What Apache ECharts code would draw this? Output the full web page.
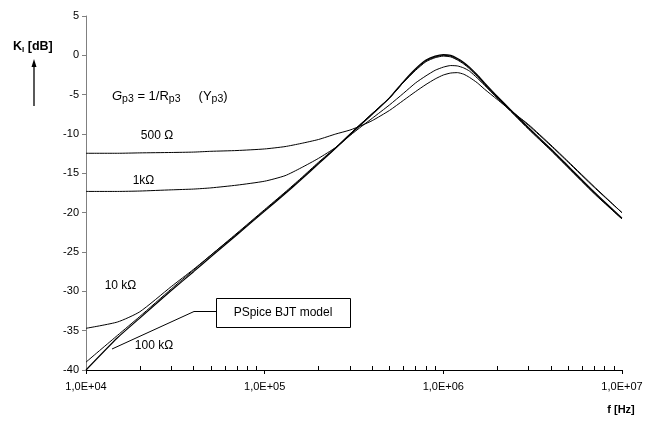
<!DOCTYPE html>
<html><head><meta charset="utf-8">
<script src="https://cdn.jsdelivr.net/npm/echarts@6/dist/echarts.min.js"></script>
<style>html,body{margin:0;padding:0;background:#fff}#c{width:659px;height:424px}</style>
</head><body><div id="c"></div>
<script>
const freq   = [1e4, 1.5e4, 2e4, 3e4, 4e4, 5e4, 7e4, 1e5, 1.3e5, 1.6e5, 2e5, 2.5e5, 3e5, 3.5e5, 4e5, 5e5, 6e5, 7e5, 8e5, 9e5, 1e6, 1.1e6, 1.2e6, 1.3e6, 1.4e6, 1.55e6, 1.7e6, 2e6, 2.5e6, 3e6, 4e6, 5e6, 7e6, 1e7];
const r500   = [-12.45, -12.45, -12.4, -12.35, -12.3, -12.2, -12.1, -11.9, -11.6, -11.2, -10.7, -10.0, -9.5, -8.9, -8.3, -7.0, -5.7, -4.6, -3.7, -3.0, -2.5, -2.25, -2.2, -2.4, -2.8, -3.5, -4.3, -5.6, -7.4, -8.8, -11.4, -13.5, -16.7, -20.0];
const r1k    = [-17.3, -17.3, -17.25, -17.1, -17.0, -16.85, -16.5, -16.0, -15.3, -14.3, -13.1, -11.7, -10.2, -9.0, -8.0, -6.3, -4.8, -3.5, -2.6, -1.9, -1.5, -1.3, -1.35, -1.6, -2.0, -2.9, -3.8, -5.4, -7.4, -8.9, -11.5, -13.6, -16.8, -20.0];
const r10k   = [-34.7, -33.9, -32.6, -29.4, -27.2, -25.4, -22.7, -19.7, -17.5, -15.7, -13.7, -11.8, -10.0, -8.6, -7.4, -5.4, -3.4, -1.9, -0.8, -0.3, -0.1, -0.2, -0.6, -1.1, -1.7, -2.7, -3.7, -5.4, -7.6, -9.4, -12.1, -14.3, -17.6, -20.8];
const r100k  = [-39.0, -35.6, -33.2, -29.7, -27.3, -25.4, -22.6, -19.6, -17.4, -15.6, -13.6, -11.7, -10.0, -8.6, -7.4, -5.4, -3.4, -1.8, -0.7, -0.2, 0.0, -0.1, -0.5, -1.0, -1.6, -2.6, -3.6, -5.3, -7.5, -9.3, -12.0, -14.2, -17.5, -20.8];
const pspice = [-40.0, -35.9, -33.4, -29.9, -27.5, -25.6, -22.8, -19.8, -17.6, -15.8, -13.8, -11.8, -10.1, -8.7, -7.5, -5.4, -3.3, -1.7, -0.6, -0.1, 0.1, 0.0, -0.4, -0.9, -1.5, -2.5, -3.5, -5.2, -7.4, -9.2, -11.9, -14.1, -17.4, -20.7];
const xTickLabels = {4: '1,0E+04', 5: '1,0E+05', 6: '1,0E+06', 7: '1,0E+07'};
const minorTickExps = [];
for (let d = 4; d < 7; d++) for (let m = 2; m <= 9; m++) minorTickExps.push(d + Math.log10(m));

const FONT = 'Liberation Sans, Arial, sans-serif';
const mctx = document.createElement('canvas').getContext('2d');
function tw(t, font) { mctx.font = font; return mctx.measureText(t).width; }
// chained text pieces: [text, font, dy]
function seq(x, y, parts) {
  const out = [];
  let cx = x;
  parts.forEach(p => {
    out.push({type: 'text', x: cx, y: y + p[2], style: {text: p[0], font: p[1], fill: '#000', align: 'left', verticalAlign: 'middle'}});
    cx += tw(p[0], p[1]);
  });
  return out;
}
const F13 = '13px ' + FONT, F13I = 'italic 13px ' + FONT, F10 = '10.5px ' + FONT;
const B13 = 'bold 12.5px ' + FONT, B8 = 'bold 8px ' + FONT;

const chart = echarts.init(document.getElementById('c'), null, {renderer: 'canvas'});
function mk(name, vals, w) {
  return {
    name: name, type: 'line', xAxisIndex: 0, yAxisIndex: 0,
    data: freq.map((f, i) => [f, vals[i]]),
    showSymbol: false, smooth: 0.2,
    lineStyle: {color: '#000', width: w}, silent: true
  };
}
chart.setOption({
  animation: false,
  backgroundColor: '#fff',
  grid: {left: 86, right: 37, top: 16, bottom: 54, containLabel: false},
  xAxis: [{
    type: 'log', logBase: 10, min: 1e4, max: 1e7, position: 'bottom',
    axisLine: {onZero: false, lineStyle: {color: '#000', width: 1}},
    axisTick: {show: true, inside: false, length: 4, lineStyle: {color: '#000'}},
    axisLabel: {color: '#000', fontFamily: FONT, fontSize: 11, margin: 11,
      formatter: v => xTickLabels[Math.round(Math.log10(v))] || ''},
    splitLine: {show: false}
  }, {
    type: 'value', min: 4, max: 7, position: 'bottom', gridIndex: 0,
    axisLine: {show: false, onZero: false},
    axisTick: {show: true, inside: true, length: 4, customValues: minorTickExps, lineStyle: {color: '#000'}},
    axisLabel: {show: false},
    splitLine: {show: false}
  }],
  yAxis: {
    type: 'value', min: -40, max: 5, interval: 5,
    axisLine: {show: true, onZero: false, lineStyle: {color: '#808080', width: 1}},
    axisTick: {show: true, inside: false, length: 4, lineStyle: {color: '#808080'}},
    axisLabel: {color: '#000', fontFamily: FONT, fontSize: 11, margin: 7},
    splitLine: {show: false}
  },
  series: [
    mk('500 Ω', r500, 1),
    mk('1 kΩ', r1k, 1),
    mk('10 kΩ', r10k, 1),
    mk('100 kΩ', r100k, 1),
    mk('PSpice BJT model', pspice, 1.2)
  ],
  graphic: [].concat(
    seq(13, 47, [['K', B13, 0], ['I', B8, 3], [' [dB]', B13, 0]]),
    [{type: 'line', shape: {x1: 34, y1: 106, x2: 34, y2: 65}, style: {stroke: '#000', lineWidth: 1.3}},
     {type: 'polygon', shape: {points: [[34, 59], [31.5, 67], [36.5, 67]]}, style: {fill: '#000'}}],
    seq(112, 96, [['G', F13I, 0], ['p3', F10, 3], [' = 1/R', F13, 0], ['p3', F10, 3], ['     (Y', F13, 0], ['p3', F10, 3], [')', F13, 0]]),
    [
    {type: 'text', x: 157, y: 136, style: {text: '500 Ω', font: '12px ' + FONT, fill: '#000', align: 'center', verticalAlign: 'middle'}},
    {type: 'text', x: 143.5, y: 181, style: {text: '1kΩ', font: '12px ' + FONT, fill: '#000', align: 'center', verticalAlign: 'middle'}},
    {type: 'text', x: 120.5, y: 286, style: {text: '10 kΩ', font: '12px ' + FONT, fill: '#000', align: 'center', verticalAlign: 'middle'}},
    {type: 'text', x: 154, y: 346, style: {text: '100 kΩ', font: '12px ' + FONT, fill: '#000', align: 'center', verticalAlign: 'middle'}},
    {type: 'polyline', shape: {points: [[112, 349], [194, 311.5], [216, 311.5]]}, style: {stroke: '#000', lineWidth: 1, fill: null}},
    {type: 'rect', shape: {x: 216.5, y: 298.5, width: 134, height: 29}, style: {stroke: '#000', lineWidth: 1, fill: '#fff'}},
    {type: 'text', x: 283, y: 313, style: {text: 'PSpice BJT model', font: '12px ' + FONT, fill: '#000', align: 'center', verticalAlign: 'middle'}},
    {type: 'text', x: 621, y: 410, style: {text: 'f [Hz]', font: 'bold 11px ' + FONT, fill: '#000', align: 'center', verticalAlign: 'middle'}}
  ])
});
</script></body></html>
